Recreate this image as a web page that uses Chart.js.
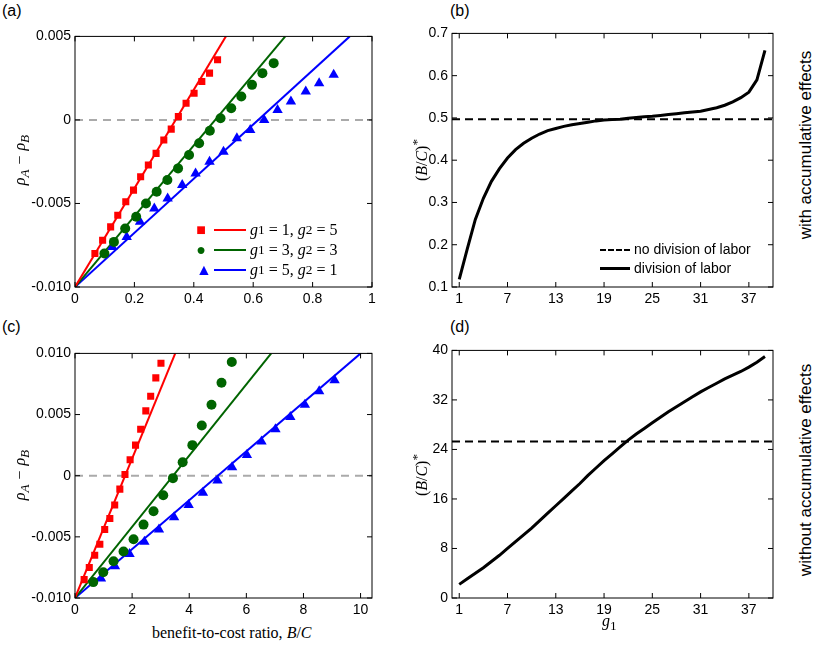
<!DOCTYPE html>
<html>
<head>
<meta charset="utf-8">
<script src="https://cdn.jsdelivr.net/npm/chart.js@4.4.0/dist/chart.umd.min.js"></script>
<style>
  body { margin: 0; background: #fff; width: 830px; height: 654px; position: relative; overflow: hidden; font-family: "Liberation Sans", Arial, sans-serif; }
  canvas { position: absolute; }
  .lbl { position: absolute; font-size: 16px; color: #000; white-space: nowrap; }
  .math { font-family: "Liberation Serif", "DejaVu Serif", serif; }
  .rot { transform: translate(-50%, -50%) rotate(-90deg); }
  .leg { position: absolute; font-family: "Liberation Serif", serif; font-size: 16px; line-height: 20px; }
  .leg div { display: flex; align-items: center; height: 20px; }
  .sw { display: inline-block; width: 32px; height: 2px; margin: 0 4px 0 8px; }
  .mk { display: inline-block; width: 10px; text-align: center; }
  .leg2 { position: absolute; font-size: 14px; line-height: 19px; }
  .leg2 div { display: flex; align-items: center; }
</style>
</head>
<body>
<canvas id="pa"></canvas>
<canvas id="pb"></canvas>
<canvas id="pc"></canvas>
<canvas id="pd"></canvas>

<div class="lbl" style="left:2px;top:2px">(a)</div>
<div class="lbl" style="left:450px;top:2px">(b)</div>
<div class="lbl" style="left:2px;top:318px">(c)</div>
<div class="lbl" style="left:450px;top:318px">(d)</div>

<div class="lbl math rot" style="left:22px;top:160px;font-style:italic">ρ<sub>A</sub> − ρ<sub>B</sub></div>
<div class="lbl math rot" style="left:22px;top:475px;font-style:italic">ρ<sub>A</sub> − ρ<sub>B</sub></div>
<div class="lbl math rot" style="left:420px;top:160px">(<i>B</i>/<i>C</i>)<sup>*</sup></div>
<div class="lbl math rot" style="left:420px;top:475px">(<i>B</i>/<i>C</i>)<sup>*</sup></div>
<div class="lbl rot" style="left:806px;top:145px;font-size:17px">with accumulative effects</div>
<div class="lbl rot" style="left:806px;top:470px;font-size:17px">without accumulative effects</div>
<div class="lbl math" style="left:152px;top:624px;font-size:16px">benefit-to-cost ratio, <i>B</i>/<i>C</i></div>
<div class="lbl math" style="left:602px;top:612px;font-size:16px"><i>g</i><sub>1</sub></div>

<div class="leg" style="left:196px;top:220px">
  <div><span class="mk" style="color:#f00">■</span><span class="sw" style="background:#f00"></span><i>g</i><sub>1</sub>&nbsp;= 1,&nbsp;<i>g</i><sub>2</sub>&nbsp;= 5</div>
  <div><span class="mk" style="color:#006400">●</span><span class="sw" style="background:#006400"></span><i>g</i><sub>1</sub>&nbsp;= 3,&nbsp;<i>g</i><sub>2</sub>&nbsp;= 3</div>
  <div><span class="mk" style="color:#00f">▲</span><span class="sw" style="background:#00f"></span><i>g</i><sub>1</sub>&nbsp;= 5,&nbsp;<i>g</i><sub>2</sub>&nbsp;= 1</div>
</div>
<div class="leg2" style="left:600px;top:240px">
  <div><span style="display:inline-block;width:30px;border-top:2px dashed #000;margin-right:4px"></span>no division of labor</div>
  <div><span style="display:inline-block;width:30px;border-top:3px solid #000;margin-right:4px"></span>division of labor</div>
</div>

<script>
// panel (a): with accumulative effects, simulation markers
const aRedX = [0.067,0.093,0.12,0.144,0.171,0.197,0.221,0.247,0.273,0.299,0.324,0.348,0.374,0.401,0.427,0.453,0.48];
const aRedY = [-0.008,-0.0072,-0.0064,-0.0057,-0.0049,-0.0042,-0.0034,-0.0027,-0.002,-0.0012,-0.00055,0.0002,0.001,0.0016,0.0023,0.0028,0.0036];
const aGreenX = [0.099,0.131,0.169,0.206,0.239,0.275,0.311,0.347,0.384,0.418,0.454,0.49,0.526,0.56,0.596,0.631,0.669];
const aGreenY = [-0.008,-0.0073,-0.0065,-0.0058,-0.005,-0.0043,-0.0036,-0.0029,-0.0021,-0.0014,-0.00065,0.0001,0.0007,0.0014,0.0021,0.0028,0.0034];
const aBlueX = [0.126,0.174,0.219,0.267,0.312,0.361,0.406,0.453,0.5,0.545,0.59,0.637,0.682,0.727,0.777,0.822,0.871];
const aBlueY = [-0.0076,-0.007,-0.0061,-0.0053,-0.0047,-0.0039,-0.0032,-0.0025,-0.0019,-0.0011,-0.0006,0.0,0.0006,0.0011,0.0017,0.0022,0.0027];
const aLineEnds = [0.508, 0.708, 0.925]; // x where theory line reaches 0.005

// panel (c): without accumulative effects
const cRedX = [0.32,0.5,0.69,0.87,1.04,1.22,1.39,1.57,1.75,1.93,2.12,2.3,2.48,2.65,2.83,3.01];
const cRedY = [-0.0085,-0.0075,-0.0065,-0.0056,-0.0044,-0.0035,-0.0024,-0.0011,0.0001,0.0013,0.0025,0.0038,0.0053,0.0065,0.008,0.0092];
const cGreenX = [0.64,0.99,1.35,1.7,2.05,2.4,2.75,3.09,3.43,3.77,4.11,4.44,4.78,5.13,5.49];
const cGreenY = [-0.0087,-0.0079,-0.007,-0.0062,-0.0052,-0.004,-0.0029,-0.0016,-0.0002,0.0011,0.0025,0.0041,0.0058,0.0076,0.0093];
const cBlueX = [0.91,1.4,1.91,2.43,2.94,3.47,3.98,4.48,4.99,5.5,6.02,6.53,7.02,7.54,8.05,8.55,9.09];
const cBlueY = [-0.0084,-0.0074,-0.0064,-0.0054,-0.0044,-0.0034,-0.0024,-0.0014,-0.0004,0.0007,0.0017,0.0028,0.0038,0.0048,0.0058,0.0069,0.0078];
const cLineEnds = [3.51, 6.87, 10.0]; // x where theory line reaches 0.010

// panels (b), (d): critical ratio vs g1
const g1 = Array.from({length: 39}, (_, i) => i + 1);
const bDol = [0.118,0.19,0.26,0.31,0.35,0.38,0.405,0.425,0.44,0.452,0.462,0.47,0.475,0.48,0.484,0.487,0.49,0.493,0.495,0.496,0.497,0.499,0.501,0.503,0.504,0.506,0.508,0.51,0.512,0.514,0.516,0.52,0.524,0.53,0.538,0.548,0.561,0.59,0.66];
const bNoDol = 0.497;
const dDol = [2.2,3.1,4.0,4.9,5.9,6.9,8.0,9.1,10.2,11.3,12.5,13.7,14.9,16.1,17.3,18.5,19.8,21.0,22.2,23.3,24.4,25.5,26.5,27.4,28.3,29.2,30.1,30.9,31.7,32.5,33.3,34.0,34.7,35.4,36.0,36.6,37.3,38.1,39.0];
const dNoDol = 25.3;

const RED = '#ff0000', GREEN = '#006400', BLUE = '#0000ff', GREY = '#aaaaaa';
Chart.defaults.font.family = '"Liberation Sans", Arial, sans-serif';
Chart.defaults.font.size = 14;
Chart.defaults.color = '#000';
Chart.defaults.animation = false;

const boxPlugin = {
  id: 'box',
  afterDraw(chart) {
    const {ctx, chartArea: a} = chart;
    ctx.save();
    ctx.strokeStyle = '#000';
    ctx.lineWidth = 1;
    ctx.strokeRect(a.left, a.top, a.right - a.left, a.bottom - a.top);
    // inward major ticks
    ctx.beginPath();
    for (const t of chart.scales.x.ticks) {
      const px = chart.scales.x.getPixelForValue(t.value);
      ctx.moveTo(px, a.bottom); ctx.lineTo(px, a.bottom - 5);
      ctx.moveTo(px, a.top); ctx.lineTo(px, a.top + 5);
    }
    for (const t of chart.scales.y.ticks) {
      const py = chart.scales.y.getPixelForValue(t.value);
      ctx.moveTo(a.left, py); ctx.lineTo(a.left + 5, py);
      ctx.moveTo(a.right, py); ctx.lineTo(a.right - 5, py);
    }
    ctx.stroke();
    ctx.restore();
  }
};

function pts(xs, ys) { return xs.map((x, i) => ({x: x, y: ys[i]})); }

function scatter(data, color, style, r) {
  return {type: 'scatter', data: data, pointStyle: style, pointRadius: r,
    backgroundColor: color, borderColor: color, borderWidth: 0};
}
function line(data, color, width, dash) {
  return {type: 'line', data: data, borderColor: color, borderWidth: width,
    borderDash: dash || [], pointRadius: 0, fill: false, tension: 0};
}

function makePanel(id, left, top, w, h, datasets, xs, ys) {
  const cv = document.getElementById(id);
  const yw = 55, xh = 25, pt = 8, pr = 8;
  cv.width = w + yw + pr; cv.height = h + pt + xh;
  cv.style.left = (left - yw) + 'px'; cv.style.top = (top - pt) + 'px';
  const mk = (s, horiz) => Object.assign({
    type: 'linear',
    grid: {display: false, drawTicks: false},
    border: {display: false},
    afterFit(sc) { if (horiz) sc.height = xh; else sc.width = yw; }
  }, s);
  new Chart(cv, {
    data: {datasets: datasets},
    options: {
      responsive: false,
      layout: {padding: {top: pt, right: pr}},
      plugins: {legend: {display: false}, tooltip: {enabled: false}},
      scales: {x: mk(xs, true), y: mk(ys, false)}
    },
    plugins: [boxPlugin]
  });
}

function fixedTicks(list) {
  return function (sc) { sc.ticks = list.map(v => ({value: v})); };
}
const fmt3 = v => v === 0 ? '0' : v.toFixed(3);

// (a)
makePanel('pa', 75, 32, 297, 255, [
  scatter(pts(aRedX, aRedY), RED, 'rect', 5),
  scatter(pts(aGreenX, aGreenY), GREEN, 'circle', 5),
  scatter(pts(aBlueX, aBlueY), BLUE, 'triangle', 6),
  line([{x: 0, y: -0.01}, {x: aLineEnds[0], y: 0.005}], RED, 2),
  line([{x: 0, y: -0.01}, {x: aLineEnds[1], y: 0.005}], GREEN, 2),
  line([{x: 0, y: -0.01}, {x: aLineEnds[2], y: 0.005}], BLUE, 2),
  line([{x: 0, y: 0}, {x: 1, y: 0}], GREY, 2, [8, 6])
], {min: 0, max: 1, afterBuildTicks: fixedTicks([0, 0.2, 0.4, 0.6, 0.8, 1]),
    ticks: {callback: v => v === 0 || v === 1 ? String(v) : v.toFixed(1), padding: 4}},
   {min: -0.01, max: 0.005, afterBuildTicks: fixedTicks([-0.01, -0.005, 0, 0.005]),
    ticks: {callback: fmt3, padding: 4}});

// (c)
makePanel('pc', 75, 349, 297, 249, [
  scatter(pts(cRedX, cRedY), RED, 'rect', 5),
  scatter(pts(cGreenX, cGreenY), GREEN, 'circle', 5),
  scatter(pts(cBlueX, cBlueY), BLUE, 'triangle', 6),
  line([{x: 0, y: -0.01}, {x: cLineEnds[0], y: 0.01}], RED, 2),
  line([{x: 0, y: -0.01}, {x: cLineEnds[1], y: 0.01}], GREEN, 2),
  line([{x: 0, y: -0.01}, {x: cLineEnds[2], y: 0.01}], BLUE, 2),
  line([{x: 0, y: 0}, {x: 10.4, y: 0}], GREY, 2, [8, 6])
], {min: 0, max: 10.4, afterBuildTicks: fixedTicks([0, 2, 4, 6, 8, 10]), ticks: {padding: 4}},
   {min: -0.01, max: 0.01, afterBuildTicks: fixedTicks([-0.01, -0.005, 0, 0.005, 0.01]),
    ticks: {callback: fmt3, padding: 4}});

const gTicks = [1, 7, 13, 19, 25, 31, 37];
// (b)
makePanel('pb', 452, 29, 321, 258, [
  line(pts(g1, bDol), '#000', 3),
  line([{x: 0.1, y: bNoDol}, {x: 40, y: bNoDol}], '#000', 2, [8, 5])
], {min: 0.1, max: 40, afterBuildTicks: fixedTicks(gTicks), ticks: {padding: 4}},
   {min: 0.1, max: 0.7, afterBuildTicks: fixedTicks([0.1, 0.2, 0.3, 0.4, 0.5, 0.6, 0.7]),
    ticks: {callback: v => v.toFixed(1), padding: 4}});

// (d)
makePanel('pd', 452, 346, 321, 252, [
  line(pts(g1, dDol), '#000', 3),
  line([{x: 0.1, y: dNoDol}, {x: 40, y: dNoDol}], '#000', 2, [8, 5])
], {min: 0.1, max: 40, afterBuildTicks: fixedTicks(gTicks), ticks: {padding: 4}},
   {min: 0, max: 40, afterBuildTicks: fixedTicks([0, 8, 16, 24, 32, 40]), ticks: {padding: 4}});
</script>
</body>
</html>
